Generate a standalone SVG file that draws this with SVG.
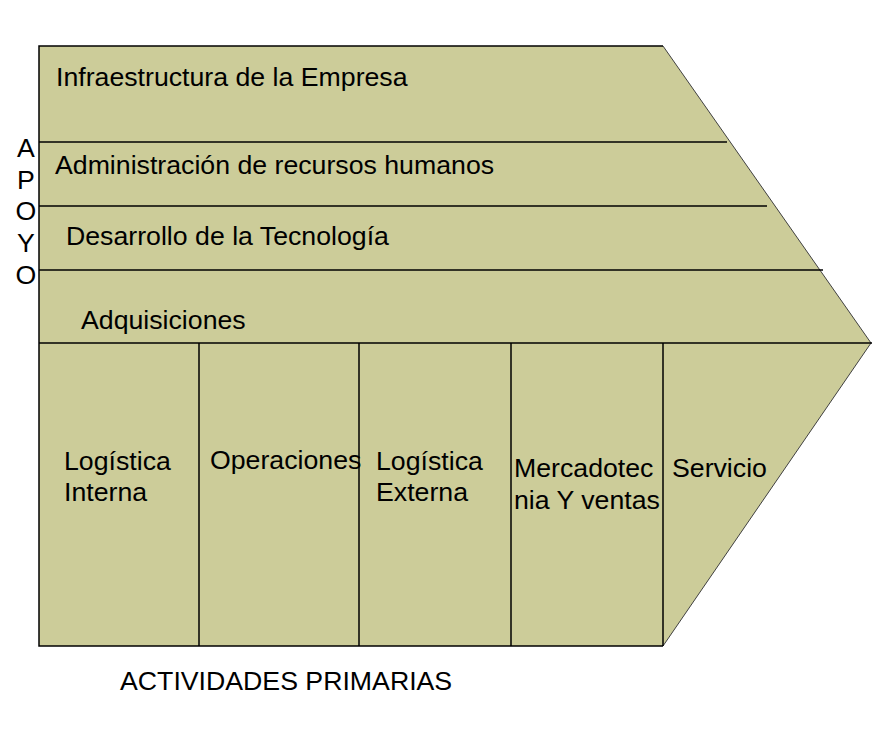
<svg xmlns="http://www.w3.org/2000/svg" width="872" height="730" viewBox="0 0 872 730">
<style>
.t{font-family:"Liberation Sans",Arial,sans-serif;font-size:26.7px;fill:#000}
.ln{stroke:#000;stroke-width:1.5;fill:none}
.dg{stroke:#404040;stroke-width:1;fill:none}
</style>
<rect width="872" height="730" fill="#fff"/>
<g id="chain">
<polygon points="39,46 663,46 871,343 663,646 39,646" fill="#CCCC99"/>
<path class="dg" d="M663,46 L871,343 L663,646"/>
<path class="ln" d="M663,46 H39 V646 H663"/>
</g>
<g id="support-infraestructura">
<text class="t" x="56" y="86">Infraestructura de la Empresa</text>
</g>
<g id="support-rrhh">
<line class="ln" x1="39" y1="142" x2="727" y2="142"/>
<text class="t" x="55" y="174">Administración de recursos humanos</text>
</g>
<g id="support-tecnologia">
<line class="ln" x1="39" y1="206" x2="767" y2="206"/>
<text class="t" x="66" y="245">Desarrollo de la Tecnología</text>
</g>
<g id="support-adquisiciones">
<line class="ln" x1="39" y1="270" x2="823" y2="270"/>
<text class="t" x="81" y="329">Adquisiciones</text>
</g>
<g id="primary-logistica-interna">
<line class="ln" x1="39" y1="343" x2="872" y2="343"/>
<text class="t" x="64" y="470">Logística</text>
<text class="t" x="64" y="501">Interna</text>
</g>
<g id="primary-operaciones">
<line class="ln" x1="199" y1="343" x2="199" y2="646"/>
<text class="t" x="210" y="469">Operaciones</text>
</g>
<g id="primary-logistica-externa">
<line class="ln" x1="359" y1="343" x2="359" y2="646"/>
<text class="t" x="376" y="470">Logística</text>
<text class="t" x="376" y="501">Externa</text>
</g>
<g id="primary-mercadotecnia">
<line class="ln" x1="511" y1="343" x2="511" y2="646"/>
<text class="t" x="514" y="477">Mercadotec</text>
<text class="t" x="514" y="509">nia Y ventas</text>
</g>
<g id="primary-servicio">
<line class="ln" x1="663" y1="343" x2="663" y2="646"/>
<text class="t" x="672" y="477">Servicio</text>
</g>
<g id="label-apoyo" class="t" text-anchor="middle">
<text x="26" y="157">A</text>
<text x="26" y="189">P</text>
<text x="26" y="220">O</text>
<text x="26" y="252">Y</text>
<text x="26" y="284">O</text>
</g>
<g id="label-primarias">
<text class="t" x="120" y="690">ACTIVIDADES PRIMARIAS</text>
</g>
<g id="connectors"/>
</svg>
